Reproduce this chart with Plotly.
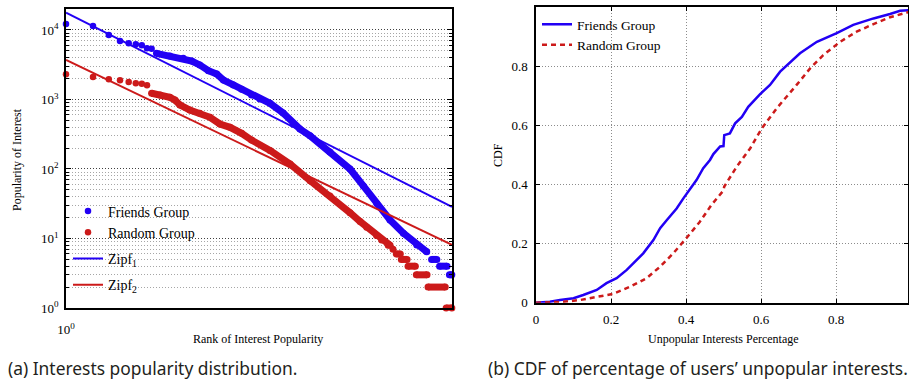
import plotly.graph_objects as go

W, H = 909, 382

# ---------------- Data: (a) Interests popularity distribution ----------------
friends_top_rank = [1, 2, 3, 4, 5, 6, 7, 8, 9]
friends_top_pop = [12200, 11400, 8470, 6950, 6430, 6230, 6030, 5450, 5380]

friends_band_rank = [10.2, 14.4, 20.3, 25.2, 31, 38.7, 47.9, 56.9, 73.4, 90.7, 117, 145, 188,
                     263, 342, 406, 526, 877, 1466, 2065, 2910, 4090, 5770, 8130, 10500,
                     None, 11900, 13600, None, 14600, 17700, None, 18800, 20000]
friends_band_pop = [4620, 4230, 3920, 3580, 3140, 2600, 2330, 1905, 1620, 1400, 1160, 1016, 881,
                    640, 440, 375, 300, 175, 100, 57, 32, 18.5, 11.9, 8.06, 6.46,
                    None, 5, 5, None, 4, 4, None, 3, 3]

random_top_rank = [1, 2, 3, 4, 5, 6, 7, 8]
random_top_pop = [2305, 2108, 1950, 1890, 1785, 1710, 1690, 1600]

random_band_rank = [9, 11.2, 14.4, 16.4, 18.6, 24, 31, 40.3, 52, 67.4, 90.7, 117, 188, 315,
                    526, 877, 1466, 1900, 2250, 2900, 3300, 3900, 4100,
                    None, 4420, None, 4810, 5330, None, 5470, 6340, None, 6500, 7840,
                    None, 8040, 10580, None, 10860, 16900, None, 17300, 20000]
random_band_pop = [1228, 1160, 1075, 984, 834, 706, 633, 554, 444, 398, 326, 261, 185, 118,
                   68, 41, 23.5, 17.5, 14.5, 11, 9.5, 8, 8,
                   None, 7, None, 6, 6, None, 5, 5, None, 4, 4,
                   None, 3, 3, None, 2, 2, None, 1, 1]

zipf1_rank = [1, 20100]
zipf1_pop = [17700, 28.6]
zipf2_rank = [1, 20100]
zipf2_pop = [3700, 8.1]

# ---------------- Data: (b) CDF of unpopular interests ----------------
friends_cdf_x = [0, 0.037, 0.064, 0.1, 0.126, 0.162, 0.188, 0.215, 0.242, 0.26, 0.286, 0.313,
                 0.331, 0.349, 0.375, 0.393, 0.402, 0.428, 0.446, 0.464, 0.473, 0.491, 0.5,
                 0.502, 0.517, 0.531, 0.549, 0.566, 0.597, 0.624, 0.651, 0.669, 0.704, 0.749,
                 0.802, 0.846, 0.9, 0.944, 0.971, 0.995]
friends_cdf_y = [0, 0.003, 0.009, 0.015, 0.026, 0.043, 0.066, 0.083, 0.111, 0.133, 0.167, 0.212,
                 0.252, 0.28, 0.319, 0.353, 0.37, 0.415, 0.455, 0.483, 0.503, 0.529, 0.53,
                 0.567, 0.573, 0.607, 0.629, 0.663, 0.705, 0.737, 0.782, 0.804, 0.844, 0.883,
                 0.912, 0.94, 0.962, 0.977, 0.988, 0.99]

random_cdf_x = [0, 0.073, 0.117, 0.162, 0.206, 0.251, 0.295, 0.331, 0.366, 0.402, 0.437, 0.468,
                0.5, 0.502, 0.516, 0.535, 0.571, 0.602, 0.642, 0.669, 0.695, 0.731, 0.766,
                0.811, 0.855, 0.9, 0.944, 0.995]
random_cdf_y = [0, 0.003, 0.009, 0.02, 0.03, 0.054, 0.083, 0.122, 0.167, 0.22, 0.274, 0.331,
                0.38, 0.393, 0.421, 0.46, 0.522, 0.59, 0.658, 0.697, 0.737, 0.793, 0.838,
                0.883, 0.917, 0.943, 0.966, 0.984]

log_ticks = [1, 10, 100, 1000, 10000]
log_ticktext = ["10<sup>0</sup>", "10<sup>1</sup>", "10<sup>2</sup>", "10<sup>3</sup>", "10<sup>4</sup>"]
cdf_xticks = [0, 0.2, 0.4, 0.6, 0.8]
cdf_yticks = [0, 0.2, 0.4, 0.6, 0.8, 1]

BLUE = "#2200f4"
RED = "#cc1a1a"
SERIF = "Liberation Serif"

fig = go.Figure()

# ---- left panel ----
fig.add_trace(go.Scatter(x=friends_top_rank, y=friends_top_pop, mode="markers",
                         marker=dict(color=BLUE, size=6.5), name="Friends Group",
                         legendgroup="pts", xaxis="x", yaxis="y", cliponaxis=False))
fig.add_trace(go.Scatter(x=friends_band_rank, y=friends_band_pop, mode="lines+markers",
                         line=dict(color=BLUE, width=7), marker=dict(color=BLUE, size=7),
                         showlegend=False, legendgroup="pts", xaxis="x", yaxis="y",
                         cliponaxis=False))
fig.add_trace(go.Scatter(x=random_top_rank, y=random_top_pop, mode="markers",
                         marker=dict(color=RED, size=6.5), name="Random Group",
                         legendgroup="pts", xaxis="x", yaxis="y", cliponaxis=False))
fig.add_trace(go.Scatter(x=random_band_rank, y=random_band_pop, mode="lines+markers",
                         line=dict(color=RED, width=7), marker=dict(color=RED, size=7),
                         showlegend=False, legendgroup="pts", xaxis="x", yaxis="y",
                         cliponaxis=False))
fig.add_trace(go.Scatter(x=zipf1_rank, y=zipf1_pop, mode="lines",
                         line=dict(color=BLUE, width=2), name="Zipf<sub>1</sub>",
                         legendgroup="z1", xaxis="x", yaxis="y"))
fig.add_trace(go.Scatter(x=zipf2_rank, y=zipf2_pop, mode="lines",
                         line=dict(color=RED, width=2), name="Zipf<sub>2</sub>",
                         legendgroup="z2", xaxis="x", yaxis="y"))

# ---- right panel ----
fig.add_trace(go.Scatter(x=friends_cdf_x, y=friends_cdf_y, mode="lines",
                         line=dict(color=BLUE, width=2.5), name="Friends Group",
                         xaxis="x2", yaxis="y2", legend="legend2"))
fig.add_trace(go.Scatter(x=random_cdf_x, y=random_cdf_y, mode="lines",
                         line=dict(color=RED, width=2.5, dash="5px,4px"), name="Random Group",
                         xaxis="x2", yaxis="y2", legend="legend2"))

minor_vals = [m * 10 ** k for k in range(0, 4) for m in range(2, 10)]

axis_common = dict(showline=True, linecolor="black", linewidth=1.5, zeroline=False,
                   automargin=False,
                   tickcolor="black", tickfont=dict(family=SERIF, size=13, color="black"))

fig.update_layout(
    width=W, height=H, margin=dict(l=0, r=0, t=0, b=0, autoexpand=False),
    paper_bgcolor="white", plot_bgcolor="white",
    xaxis=dict(type="log", range=[0, 4.303], domain=[66 / W, 452 / W], anchor="y",
               tickmode="array", tickvals=[1], ticktext=["10<sup>0</sup>"],
               ticks="", showgrid=False, mirror=True, ticklabelstandoff=9, **axis_common),
    yaxis=dict(type="log", range=[0, 4.302], domain=[1 - 308 / H, 1 - 9 / H], anchor="x",
               tickmode="array", tickvals=log_ticks, ticktext=log_ticktext,
               ticks="inside", ticklen=5, mirror="allticks", ticklabelstandoff=3,
               showgrid=True, gridcolor="rgba(0,0,0,0.75)", gridwidth=1, griddash="1px,2px",
               minor=dict(tickmode="array", tickvals=minor_vals, ticks="inside", ticklen=3,
                          tickcolor="black", showgrid=True, gridcolor="rgba(0,0,0,0.35)",
                          gridwidth=1, griddash="1px,2px"),
               **axis_common),
    xaxis2=dict(range=[0, 0.992], domain=[536 / W, 908 / W], anchor="y2",
                tickmode="array", tickvals=cdf_xticks, ticktext=["0", "0.2", "0.4", "0.6", "0.8"],
                ticks="inside", ticklen=4, mirror="allticks", ticklabelstandoff=4,
                showgrid=True, gridcolor="rgba(0,0,0,0.45)", gridwidth=1, griddash="1px,2px",
                **axis_common),
    yaxis2=dict(range=[0, 1], domain=[1 - 302.7 / H, 1 - 7.2 / H], anchor="x2",
                tickmode="array", tickvals=cdf_yticks, ticktext=["0", "0.2", "0.4", "0.6", "0.8", "1"],
                ticks="inside", ticklen=4, mirror="allticks", ticklabelstandoff=4,
                showgrid=True, gridcolor="rgba(0,0,0,0.45)", gridwidth=1, griddash="1px,2px",
                **axis_common),
    legend=dict(x=68 / W, y=1 - 195.5 / H, xanchor="left", yanchor="top",
                bgcolor="rgba(0,0,0,0)", traceorder="grouped", tracegroupgap=5,
                font=dict(family=SERIF, size=14, color="black")),
    legend2=dict(x=537 / W, y=1 - 9 / H, xanchor="left", yanchor="top",
                 bgcolor="rgba(0,0,0,0)", font=dict(family=SERIF, size=13.5, color="black")),
    showlegend=True,
)

annots = [
    dict(text="Popularity of Interest", x=17 / W, y=1 - 160 / H, textangle=-90,
         font=dict(family=SERIF, size=12)),
    dict(text="Rank of Interest Popularity", x=258 / W, y=1 - 339 / H,
         font=dict(family=SERIF, size=12)),
    dict(text="CDF", x=498 / W, y=1 - 155 / H, textangle=-90,
         font=dict(family=SERIF, size=12)),
    dict(text="Unpopular Interests Percentage", x=723 / W, y=1 - 339 / H,
         font=dict(family=SERIF, size=12)),
    dict(text="(a) Interests popularity distribution.", x=6 / W, y=1 - 368 / H, xanchor="left",
         font=dict(family="Noto Sans", size=17.4, color="#231f20")),
    dict(text="(b) CDF of percentage of users’ unpopular interests.", x=486 / W, y=1 - 368 / H,
         xanchor="left", font=dict(family="Noto Sans", size=17.4, color="#231f20")),
]
for a in annots:
    a.setdefault("xanchor", "center")
    a.update(xref="paper", yref="paper", yanchor="middle", showarrow=False)
    a["font"].setdefault("color", "black")
fig.update_layout(annotations=annots)

fig.write_html("out.html", config={"displayModeBar": False},
               post_script="document.body.style.margin='0px';")
